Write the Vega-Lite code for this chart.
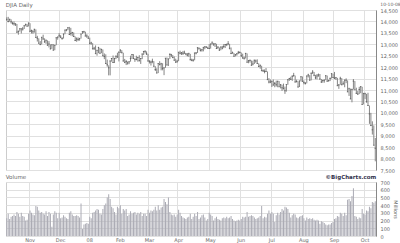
{
"$schema": "https://vega.github.io/schema/vega-lite/v6.json",
"background": "white",
"padding": {"left": 5, "top": 1, "right": 0, "bottom": 0},
"spacing": 0,
"config": {
  "font": "DejaVu Sans",
  "view": {"stroke": "#cccccc"},
  "axis": {"gridColor": "#e0e0e0", "labelFontSize": 5, "labelColor": "#666666", "domain": false, "ticks": false, "titleFontWeight": "normal", "titleFontSize": 5, "titleColor": "#666666", "labelOverlap": false}
},
"datasets": {"px": [
{"d":"2007-10-10","h":14180,"l":14040,"c":14078,"v":230},
{"d":"2007-10-11","h":14200,"l":13960,"c":13996,"v":290},
{"d":"2007-10-12","h":14110,"l":13990,"c":14093,"v":220},
{"d":"2007-10-15","h":14090,"l":13910,"c":13985,"v":250},
{"d":"2007-10-16","h":13990,"l":13860,"c":13913,"v":260},
{"d":"2007-10-17","h":14000,"l":13820,"c":13893,"v":280},
{"d":"2007-10-18","h":13920,"l":13800,"c":13888,"v":260},
{"d":"2007-10-19","h":13890,"l":13510,"c":13522,"v":310},
{"d":"2007-10-22","h":13600,"l":13420,"c":13566,"v":290},
{"d":"2007-10-23","h":13700,"l":13560,"c":13676,"v":250},
{"d":"2007-10-24","h":13690,"l":13470,"c":13675,"v":300},
{"d":"2007-10-25","h":13760,"l":13600,"c":13671,"v":260},
{"d":"2007-10-26","h":13830,"l":13670,"c":13806,"v":250},
{"d":"2007-10-29","h":13900,"l":13790,"c":13870,"v":200},
{"d":"2007-10-30","h":13880,"l":13780,"c":13792,"v":210},
{"d":"2007-10-31","h":13950,"l":13780,"c":13930,"v":290},
{"d":"2007-11-01","h":13920,"l":13540,"c":13567,"v":330},
{"d":"2007-11-02","h":13640,"l":13470,"c":13595,"v":300},
{"d":"2007-11-05","h":13620,"l":13460,"c":13543,"v":280},
{"d":"2007-11-06","h":13670,"l":13510,"c":13660,"v":270},
{"d":"2007-11-07","h":13650,"l":13290,"c":13300,"v":390},
{"d":"2007-11-08","h":13370,"l":13120,"c":13266,"v":380},
{"d":"2007-11-09","h":13260,"l":13030,"c":13042,"v":330},
{"d":"2007-11-12","h":13140,"l":12960,"c":12987,"v":300},
{"d":"2007-11-13","h":13320,"l":12990,"c":13307,"v":310},
{"d":"2007-11-14","h":13420,"l":13200,"c":13231,"v":290},
{"d":"2007-11-15","h":13260,"l":13060,"c":13110,"v":280},
{"d":"2007-11-16","h":13200,"l":13020,"c":13176,"v":320},
{"d":"2007-11-19","h":13170,"l":12940,"c":12958,"v":260},
{"d":"2007-11-20","h":13140,"l":12860,"c":13010,"v":310},
{"d":"2007-11-21","h":13000,"l":12780,"c":12799,"v":290},
{"d":"2007-11-23","h":12990,"l":12800,"c":12980,"v":120},
{"d":"2007-11-26","h":13010,"l":12730,"c":12743,"v":280},
{"d":"2007-11-27","h":12970,"l":12740,"c":12958,"v":320},
{"d":"2007-11-28","h":13300,"l":12960,"c":13289,"v":300},
{"d":"2007-11-29","h":13340,"l":13200,"c":13311,"v":230},
{"d":"2007-11-30","h":13490,"l":13310,"c":13372,"v":300},
{"d":"2007-12-03","h":13400,"l":13270,"c":13315,"v":230},
{"d":"2007-12-04","h":13310,"l":13200,"c":13249,"v":240},
{"d":"2007-12-05","h":13470,"l":13250,"c":13445,"v":270},
{"d":"2007-12-06","h":13630,"l":13440,"c":13620,"v":250},
{"d":"2007-12-07","h":13670,"l":13570,"c":13625,"v":230},
{"d":"2007-12-10","h":13750,"l":13620,"c":13727,"v":220},
{"d":"2007-12-11","h":13760,"l":13410,"c":13433,"v":300},
{"d":"2007-12-12","h":13720,"l":13380,"c":13474,"v":320},
{"d":"2007-12-13","h":13540,"l":13350,"c":13518,"v":280},
{"d":"2007-12-14","h":13520,"l":13320,"c":13340,"v":260},
{"d":"2007-12-17","h":13340,"l":13140,"c":13168,"v":260},
{"d":"2007-12-18","h":13300,"l":13110,"c":13233,"v":270},
{"d":"2007-12-19","h":13300,"l":13140,"c":13207,"v":260},
{"d":"2007-12-20","h":13280,"l":13160,"c":13245,"v":240},
{"d":"2007-12-21","h":13460,"l":13250,"c":13451,"v":420},
{"d":"2007-12-24","h":13570,"l":13450,"c":13550,"v":90},
{"d":"2007-12-26","h":13590,"l":13490,"c":13552,"v":150},
{"d":"2007-12-27","h":13550,"l":13350,"c":13360,"v":160},
{"d":"2007-12-28","h":13440,"l":13280,"c":13366,"v":170},
{"d":"2007-12-31","h":13370,"l":13240,"c":13265,"v":160},
{"d":"2008-01-02","h":13290,"l":12990,"c":13044,"v":250},
{"d":"2008-01-03","h":13110,"l":12980,"c":13057,"v":230},
{"d":"2008-01-04","h":13050,"l":12780,"c":12800,"v":300},
{"d":"2008-01-07","h":12890,"l":12750,"c":12828,"v":310},
{"d":"2008-01-08","h":12950,"l":12580,"c":12590,"v":330},
{"d":"2008-01-09","h":12750,"l":12500,"c":12736,"v":350},
{"d":"2008-01-10","h":12890,"l":12610,"c":12853,"v":340},
{"d":"2008-01-11","h":12840,"l":12590,"c":12607,"v":290},
{"d":"2008-01-14","h":12800,"l":12610,"c":12779,"v":280},
{"d":"2008-01-15","h":12770,"l":12480,"c":12501,"v":350},
{"d":"2008-01-16","h":12600,"l":12350,"c":12467,"v":400},
{"d":"2008-01-17","h":12560,"l":12140,"c":12160,"v":420},
{"d":"2008-01-18","h":12330,"l":12020,"c":12100,"v":500},
{"d":"2008-01-22","h":12080,"l":11640,"c":11971,"v":540},
{"d":"2008-01-23","h":12290,"l":11640,"c":12271,"v":480},
{"d":"2008-01-24","h":12400,"l":12240,"c":12379,"v":380},
{"d":"2008-01-25","h":12510,"l":12180,"c":12207,"v":360},
{"d":"2008-01-28","h":12400,"l":12180,"c":12384,"v":310},
{"d":"2008-01-29","h":12510,"l":12350,"c":12480,"v":280},
{"d":"2008-01-30","h":12630,"l":12410,"c":12443,"v":380},
{"d":"2008-01-31","h":12690,"l":12250,"c":12650,"v":360},
{"d":"2008-02-01","h":12780,"l":12620,"c":12743,"v":400},
{"d":"2008-02-04","h":12740,"l":12610,"c":12635,"v":290},
{"d":"2008-02-05","h":12630,"l":12250,"c":12265,"v":350},
{"d":"2008-02-06","h":12360,"l":12190,"c":12200,"v":330},
{"d":"2008-02-07","h":12310,"l":12090,"c":12248,"v":350},
{"d":"2008-02-08","h":12250,"l":12110,"c":12182,"v":260},
{"d":"2008-02-11","h":12260,"l":12130,"c":12240,"v":280},
{"d":"2008-02-12","h":12500,"l":12240,"c":12374,"v":320},
{"d":"2008-02-13","h":12570,"l":12370,"c":12552,"v":290},
{"d":"2008-02-14","h":12570,"l":12360,"c":12376,"v":300},
{"d":"2008-02-15","h":12380,"l":12230,"c":12348,"v":310},
{"d":"2008-02-19","h":12500,"l":12300,"c":12337,"v":280},
{"d":"2008-02-20","h":12440,"l":12240,"c":12427,"v":300},
{"d":"2008-02-21","h":12520,"l":12250,"c":12284,"v":290},
{"d":"2008-02-22","h":12390,"l":12140,"c":12381,"v":310},
{"d":"2008-02-25","h":12590,"l":12350,"c":12570,"v":260},
{"d":"2008-02-26","h":12710,"l":12530,"c":12684,"v":290},
{"d":"2008-02-27","h":12730,"l":12600,"c":12694,"v":290},
{"d":"2008-02-28","h":12690,"l":12530,"c":12582,"v":260},
{"d":"2008-02-29","h":12580,"l":12250,"c":12266,"v":340},
{"d":"2008-03-03","h":12300,"l":12160,"c":12258,"v":300},
{"d":"2008-03-04","h":12280,"l":12070,"c":12213,"v":330},
{"d":"2008-03-05","h":12370,"l":12170,"c":12254,"v":320},
{"d":"2008-03-06","h":12260,"l":12020,"c":12040,"v":340},
{"d":"2008-03-07","h":12040,"l":11830,"c":11894,"v":380},
{"d":"2008-03-10","h":11950,"l":11730,"c":11740,"v":330},
{"d":"2008-03-11","h":12160,"l":11740,"c":12156,"v":400},
{"d":"2008-03-12","h":12260,"l":12080,"c":12110,"v":340},
{"d":"2008-03-13","h":12190,"l":11860,"c":12146,"v":370},
{"d":"2008-03-14","h":12170,"l":11860,"c":11951,"v":380},
{"d":"2008-03-17","h":11970,"l":11650,"c":11972,"v":480},
{"d":"2008-03-18","h":12400,"l":11970,"c":12392,"v":440},
{"d":"2008-03-19","h":12420,"l":12080,"c":12099,"v":410},
{"d":"2008-03-20","h":12370,"l":12050,"c":12361,"v":500},
{"d":"2008-03-24","h":12610,"l":12360,"c":12548,"v":310},
{"d":"2008-03-25","h":12580,"l":12440,"c":12533,"v":280},
{"d":"2008-03-26","h":12530,"l":12390,"c":12422,"v":270},
{"d":"2008-03-27","h":12470,"l":12290,"c":12302,"v":280},
{"d":"2008-03-28","h":12370,"l":12190,"c":12216,"v":250},
{"d":"2008-03-31","h":12320,"l":12190,"c":12263,"v":280},
{"d":"2008-04-01","h":12660,"l":12260,"c":12654,"v":340},
{"d":"2008-04-02","h":12720,"l":12560,"c":12608,"v":300},
{"d":"2008-04-03","h":12660,"l":12530,"c":12627,"v":260},
{"d":"2008-04-04","h":12710,"l":12530,"c":12610,"v":240},
{"d":"2008-04-07","h":12720,"l":12590,"c":12612,"v":230},
{"d":"2008-04-08","h":12620,"l":12520,"c":12577,"v":220},
{"d":"2008-04-09","h":12620,"l":12470,"c":12527,"v":240},
{"d":"2008-04-10","h":12630,"l":12450,"c":12581,"v":250},
{"d":"2008-04-11","h":12580,"l":12300,"c":12325,"v":290},
{"d":"2008-04-14","h":12370,"l":12260,"c":12303,"v":220},
{"d":"2008-04-15","h":12360,"l":12240,"c":12302,"v":250},
{"d":"2008-04-16","h":12630,"l":12300,"c":12619,"v":290},
{"d":"2008-04-17","h":12660,"l":12560,"c":12620,"v":260},
{"d":"2008-04-18","h":12870,"l":12620,"c":12849,"v":310},
{"d":"2008-04-21","h":12850,"l":12760,"c":12825,"v":220},
{"d":"2008-04-22","h":12820,"l":12690,"c":12721,"v":240},
{"d":"2008-04-23","h":12800,"l":12680,"c":12763,"v":270},
{"d":"2008-04-24","h":12890,"l":12690,"c":12849,"v":280},
{"d":"2008-04-25","h":12910,"l":12780,"c":12892,"v":240},
{"d":"2008-04-28","h":12920,"l":12840,"c":12872,"v":200},
{"d":"2008-04-29","h":12890,"l":12800,"c":12832,"v":220},
{"d":"2008-04-30","h":13010,"l":12790,"c":12820,"v":300},
{"d":"2008-05-01","h":13030,"l":12810,"c":13010,"v":280},
{"d":"2008-05-02","h":13130,"l":12990,"c":13058,"v":260},
{"d":"2008-05-05","h":13060,"l":12950,"c":12969,"v":200},
{"d":"2008-05-06","h":13040,"l":12880,"c":13021,"v":230},
{"d":"2008-05-07","h":13020,"l":12800,"c":12814,"v":250},
{"d":"2008-05-08","h":12920,"l":12800,"c":12866,"v":220},
{"d":"2008-05-09","h":12860,"l":12710,"c":12746,"v":210},
{"d":"2008-05-12","h":12900,"l":12740,"c":12876,"v":200},
{"d":"2008-05-13","h":12930,"l":12780,"c":12832,"v":230},
{"d":"2008-05-14","h":13010,"l":12830,"c":12898,"v":240},
{"d":"2008-05-15","h":13000,"l":12840,"c":12992,"v":230},
{"d":"2008-05-16","h":13030,"l":12920,"c":12986,"v":250},
{"d":"2008-05-19","h":13140,"l":12960,"c":13028,"v":230},
{"d":"2008-05-20","h":13020,"l":12780,"c":12828,"v":240},
{"d":"2008-05-21","h":12860,"l":12570,"c":12601,"v":260},
{"d":"2008-05-22","h":12680,"l":12590,"c":12625,"v":220},
{"d":"2008-05-23","h":12620,"l":12460,"c":12479,"v":200},
{"d":"2008-05-27","h":12570,"l":12470,"c":12548,"v":190},
{"d":"2008-05-28","h":12620,"l":12500,"c":12590,"v":200},
{"d":"2008-05-29","h":12710,"l":12570,"c":12646,"v":210},
{"d":"2008-05-30","h":12690,"l":12600,"c":12638,"v":200},
{"d":"2008-06-02","h":12640,"l":12440,"c":12503,"v":220},
{"d":"2008-06-03","h":12590,"l":12370,"c":12402,"v":250},
{"d":"2008-06-04","h":12460,"l":12330,"c":12390,"v":240},
{"d":"2008-06-05","h":12620,"l":12380,"c":12604,"v":250},
{"d":"2008-06-06","h":12600,"l":12200,"c":12210,"v":310},
{"d":"2008-06-09","h":12310,"l":12170,"c":12280,"v":250},
{"d":"2008-06-10","h":12340,"l":12200,"c":12289,"v":260},
{"d":"2008-06-11","h":12290,"l":12060,"c":12084,"v":270},
{"d":"2008-06-12","h":12280,"l":12080,"c":12141,"v":260},
{"d":"2008-06-13","h":12320,"l":12140,"c":12307,"v":240},
{"d":"2008-06-16","h":12330,"l":12190,"c":12269,"v":220},
{"d":"2008-06-17","h":12340,"l":12150,"c":12160,"v":230},
{"d":"2008-06-18","h":12170,"l":12000,"c":12029,"v":240},
{"d":"2008-06-19","h":12120,"l":11930,"c":12063,"v":260},
{"d":"2008-06-20","h":12060,"l":11830,"c":11842,"v":390},
{"d":"2008-06-23","h":11900,"l":11790,"c":11842,"v":230},
{"d":"2008-06-24","h":11900,"l":11730,"c":11807,"v":250},
{"d":"2008-06-25","h":11960,"l":11800,"c":11811,"v":240},
{"d":"2008-06-26","h":11810,"l":11440,"c":11453,"v":290},
{"d":"2008-06-27","h":11520,"l":11290,"c":11346,"v":330},
{"d":"2008-06-30","h":11460,"l":11300,"c":11350,"v":290},
{"d":"2008-07-01","h":11400,"l":11130,"c":11382,"v":310},
{"d":"2008-07-02","h":11460,"l":11200,"c":11215,"v":290},
{"d":"2008-07-03","h":11350,"l":11120,"c":11288,"v":180},
{"d":"2008-07-07","h":11410,"l":11150,"c":11231,"v":270},
{"d":"2008-07-08","h":11400,"l":11120,"c":11384,"v":300},
{"d":"2008-07-09","h":11390,"l":11140,"c":11147,"v":280},
{"d":"2008-07-10","h":11260,"l":11070,"c":11229,"v":310},
{"d":"2008-07-11","h":11230,"l":10960,"c":11100,"v":350},
{"d":"2008-07-14","h":11280,"l":11030,"c":11055,"v":330},
{"d":"2008-07-15","h":11150,"l":10830,"c":10962,"v":380},
{"d":"2008-07-16","h":11250,"l":10930,"c":11239,"v":370},
{"d":"2008-07-17","h":11470,"l":11230,"c":11446,"v":350},
{"d":"2008-07-18","h":11530,"l":11400,"c":11496,"v":300},
{"d":"2008-07-21","h":11580,"l":11440,"c":11467,"v":240},
{"d":"2008-07-22","h":11640,"l":11400,"c":11602,"v":270},
{"d":"2008-07-23","h":11750,"l":11580,"c":11632,"v":290},
{"d":"2008-07-24","h":11630,"l":11330,"c":11349,"v":280},
{"d":"2008-07-25","h":11450,"l":11330,"c":11370,"v":240},
{"d":"2008-07-28","h":11380,"l":11110,"c":11131,"v":230},
{"d":"2008-07-29","h":11410,"l":11130,"c":11397,"v":250},
{"d":"2008-07-30","h":11600,"l":11380,"c":11583,"v":260},
{"d":"2008-07-31","h":11590,"l":11360,"c":11378,"v":270},
{"d":"2008-08-01","h":11420,"l":11250,"c":11326,"v":230},
{"d":"2008-08-04","h":11350,"l":11240,"c":11284,"v":200},
{"d":"2008-08-05","h":11630,"l":11290,"c":11615,"v":240},
{"d":"2008-08-06","h":11710,"l":11550,"c":11656,"v":220},
{"d":"2008-08-07","h":11650,"l":11410,"c":11431,"v":230},
{"d":"2008-08-08","h":11760,"l":11420,"c":11734,"v":220},
{"d":"2008-08-11","h":11870,"l":11700,"c":11782,"v":230},
{"d":"2008-08-12","h":11790,"l":11600,"c":11643,"v":210},
{"d":"2008-08-13","h":11660,"l":11470,"c":11533,"v":200},
{"d":"2008-08-14","h":11700,"l":11460,"c":11615,"v":210},
{"d":"2008-08-15","h":11720,"l":11580,"c":11659,"v":200},
{"d":"2008-08-18","h":11700,"l":11450,"c":11479,"v":160},
{"d":"2008-08-19","h":11480,"l":11310,"c":11349,"v":190},
{"d":"2008-08-20","h":11450,"l":11320,"c":11417,"v":180},
{"d":"2008-08-21","h":11460,"l":11320,"c":11430,"v":170},
{"d":"2008-08-22","h":11650,"l":11430,"c":11628,"v":150},
{"d":"2008-08-25","h":11630,"l":11370,"c":11387,"v":140},
{"d":"2008-08-26","h":11450,"l":11360,"c":11413,"v":150},
{"d":"2008-08-27","h":11550,"l":11390,"c":11503,"v":150},
{"d":"2008-08-28","h":11730,"l":11500,"c":11715,"v":170},
{"d":"2008-08-29","h":11710,"l":11530,"c":11544,"v":180},
{"d":"2008-09-02","h":11790,"l":11480,"c":11516,"v":220},
{"d":"2008-09-03","h":11570,"l":11440,"c":11533,"v":230},
{"d":"2008-09-04","h":11530,"l":11180,"c":11188,"v":260},
{"d":"2008-09-05","h":11260,"l":11050,"c":11220,"v":250},
{"d":"2008-09-08","h":11580,"l":11230,"c":11511,"v":300},
{"d":"2008-09-09","h":11520,"l":11210,"c":11231,"v":290},
{"d":"2008-09-10","h":11380,"l":11230,"c":11268,"v":260},
{"d":"2008-09-11","h":11450,"l":11120,"c":11434,"v":300},
{"d":"2008-09-12","h":11510,"l":11300,"c":11422,"v":270},
{"d":"2008-09-15","h":11420,"l":10910,"c":10918,"v":470},
{"d":"2008-09-16","h":11100,"l":10740,"c":11059,"v":480},
{"d":"2008-09-17","h":11060,"l":10600,"c":10610,"v":450},
{"d":"2008-09-18","h":11060,"l":10460,"c":11020,"v":520},
{"d":"2008-09-19","h":11480,"l":11020,"c":11388,"v":620},
{"d":"2008-09-22","h":11390,"l":11010,"c":11016,"v":260},
{"d":"2008-09-23","h":11100,"l":10830,"c":10855,"v":250},
{"d":"2008-09-24","h":10960,"l":10780,"c":10825,"v":220},
{"d":"2008-09-25","h":11140,"l":10820,"c":11023,"v":240},
{"d":"2008-09-26","h":11170,"l":10860,"c":11143,"v":230},
{"d":"2008-09-29","h":11140,"l":10360,"c":10365,"v":350},
{"d":"2008-09-30","h":10860,"l":10370,"c":10851,"v":290},
{"d":"2008-10-01","h":10880,"l":10600,"c":10831,"v":280},
{"d":"2008-10-02","h":10830,"l":10450,"c":10483,"v":330},
{"d":"2008-10-03","h":10880,"l":10300,"c":10325,"v":320},
{"d":"2008-10-06","h":10320,"l":9520,"c":9955,"v":380},
{"d":"2008-10-07","h":10000,"l":9420,"c":9447,"v":360},
{"d":"2008-10-08","h":9630,"l":9050,"c":9258,"v":440},
{"d":"2008-10-09","h":9450,"l":8580,"c":8579,"v":430},
{"d":"2008-10-10","h":8900,"l":7880,"c":8451,"v":450}
]},
"vconcat": [
  {
    "width": 370, "height": 160,
    "data": {"name": "px"},
    "layer": [
      {"mark": {"type": "rule", "color": "#858585", "strokeWidth": 1},
       "encoding": {
         "x": {"field": "d", "type": "ordinal", "scale": {"paddingInner": 0, "paddingOuter": 0},
               "axis": {"values": ["2007-11-01","2007-12-03","2008-01-02","2008-02-01","2008-03-03","2008-04-01","2008-05-01","2008-06-02","2008-07-01","2008-08-01","2008-09-02","2008-10-01"], "labels": false, "grid": true, "bandPosition": 0, "title": null, "minExtent": 0, "maxExtent": 0, "offset": 0}},
         "y": {"field": "l", "type": "quantitative", "scale": {"domain": [7500, 14500], "zero": false, "nice": false},
               "axis": {"orient": "right", "values": [7500,8000,8500,9000,9500,10000,10500,11000,11500,12000,12500,13000,13500,14000,14500], "format": ",.0f", "grid": true, "title": null, "domain": true, "domainColor": "#888888", "labelPadding": 4}},
         "y2": {"field": "h"}
       }},
      {"mark": {"type": "tick", "color": "#505050", "thickness": 1},
       "encoding": {
         "x": {"field": "d", "type": "ordinal",
               "axis": {"values": ["2007-11-01","2007-12-03","2008-01-02","2008-02-01","2008-03-03","2008-04-01","2008-05-01","2008-06-02","2008-07-01","2008-08-01","2008-09-02","2008-10-01"], "labels": false, "grid": true, "bandPosition": 0, "title": null, "minExtent": 0, "maxExtent": 0, "offset": 0}},
         "y": {"field": "c", "type": "quantitative",
               "axis": {"orient": "right", "values": [7500,8000,8500,9000,9500,10000,10500,11000,11500,12000,12500,13000,13500,14000,14500], "format": ",.0f", "grid": true, "title": null, "domain": true, "domainColor": "#888888", "labelPadding": 4}}
       }},
      {"data": {"values": [{"d": "2007-10-10", "t": "DJIA Daily", "y": 14700}]},
       "mark": {"type": "text", "align": "left", "baseline": "middle", "fontSize": 5.5, "color": "#666666", "dx": -1},
       "encoding": {
         "x": {"field": "d", "type": "ordinal",
               "axis": {"values": ["2007-11-01","2007-12-03","2008-01-02","2008-02-01","2008-03-03","2008-04-01","2008-05-01","2008-06-02","2008-07-01","2008-08-01","2008-09-02","2008-10-01"], "labels": false, "grid": true, "bandPosition": 0, "title": null, "minExtent": 0, "maxExtent": 0, "offset": 0}},
         "y": {"field": "y", "type": "quantitative",
               "axis": {"orient": "right", "values": [7500,8000,8500,9000,9500,10000,10500,11000,11500,12000,12500,13000,13500,14000,14500], "format": ",.0f", "grid": true, "title": null, "domain": true, "domainColor": "#888888", "labelPadding": 4}},
         "text": {"field": "t"}
       }},
      {"data": {"values": [{"d": "2008-10-10", "t": "10-10-08", "y": 14700}]},
       "mark": {"type": "text", "align": "left", "baseline": "middle", "fontSize": 4.5, "color": "#666666", "dx": 5},
       "encoding": {
         "x": {"field": "d", "type": "ordinal",
               "axis": {"values": ["2007-11-01","2007-12-03","2008-01-02","2008-02-01","2008-03-03","2008-04-01","2008-05-01","2008-06-02","2008-07-01","2008-08-01","2008-09-02","2008-10-01"], "labels": false, "grid": true, "bandPosition": 0, "title": null, "minExtent": 0, "maxExtent": 0, "offset": 0}},
         "y": {"field": "y", "type": "quantitative",
               "axis": {"orient": "right", "values": [7500,8000,8500,9000,9500,10000,10500,11000,11500,12000,12500,13000,13500,14000,14500], "format": ",.0f", "grid": true, "title": null, "domain": true, "domainColor": "#888888", "labelPadding": 4}},
         "text": {"field": "t"}
       }}
    ]
  },
  {
    "width": 370, "height": 54,
    "data": {"name": "px"},
    "layer": [
      {"mark": {"type": "bar", "color": "#ababb4", "width": 1},
       "encoding": {
         "x": {"field": "d", "type": "ordinal", "scale": {"paddingInner": 0, "paddingOuter": 0},
               "axis": {"values": ["2007-11-01","2007-12-03","2008-01-02","2008-02-01","2008-03-03","2008-04-01","2008-05-01","2008-06-02","2008-07-01","2008-08-01","2008-09-02","2008-10-01"], "grid": true, "bandPosition": 0, "title": null, "labelPadding": 1, "labelAngle": 0,
                        "labelExpr": "slice(datum.value, 5, 7) == '01' ? '08' : utcFormat(toDate(datum.value + 'T12:00:00Z'), '%b')"}},
         "y": {"field": "v", "type": "quantitative", "scale": {"domain": [0, 700], "nice": false},
               "axis": {"orient": "right", "values": [0,100,200,300,400,500,600,700], "format": "d", "grid": true, "title": "Millions", "domain": true, "domainColor": "#888888", "labelPadding": 4, "titlePadding": 3}}
       }},
      {"data": {"values": [{"d": "2007-10-10", "t": "Volume", "y": 768}]},
       "mark": {"type": "text", "align": "left", "baseline": "middle", "fontSize": 5.5, "color": "#666666", "dx": -1},
       "encoding": {
         "x": {"field": "d", "type": "ordinal",
               "axis": {"values": ["2007-11-01","2007-12-03","2008-01-02","2008-02-01","2008-03-03","2008-04-01","2008-05-01","2008-06-02","2008-07-01","2008-08-01","2008-09-02","2008-10-01"], "grid": true, "bandPosition": 0, "title": null, "labelPadding": 1, "labelAngle": 0,
                        "labelExpr": "slice(datum.value, 5, 7) == '01' ? '08' : utcFormat(toDate(datum.value + 'T12:00:00Z'), '%b')"}},
         "y": {"field": "y", "type": "quantitative",
               "axis": {"orient": "right", "values": [0,100,200,300,400,500,600,700], "format": "d", "grid": true, "title": "Millions", "domain": true, "domainColor": "#888888", "labelPadding": 4, "titlePadding": 3}},
         "text": {"field": "t"}
       }},
      {"data": {"values": [{"d": "2008-10-10", "t": "©BigCharts.com", "y": 768}]},
       "mark": {"type": "text", "align": "right", "baseline": "middle", "fontSize": 5.5, "fontWeight": "bold", "color": "#33334d", "dx": 1},
       "encoding": {
         "x": {"field": "d", "type": "ordinal",
               "axis": {"values": ["2007-11-01","2007-12-03","2008-01-02","2008-02-01","2008-03-03","2008-04-01","2008-05-01","2008-06-02","2008-07-01","2008-08-01","2008-09-02","2008-10-01"], "grid": true, "bandPosition": 0, "title": null, "labelPadding": 1, "labelAngle": 0,
                        "labelExpr": "slice(datum.value, 5, 7) == '01' ? '08' : utcFormat(toDate(datum.value + 'T12:00:00Z'), '%b')"}},
         "y": {"field": "y", "type": "quantitative",
               "axis": {"orient": "right", "values": [0,100,200,300,400,500,600,700], "format": "d", "grid": true, "title": "Millions", "domain": true, "domainColor": "#888888", "labelPadding": 4, "titlePadding": 3}},
         "text": {"field": "t"}
       }}
    ]
  }
]
}
